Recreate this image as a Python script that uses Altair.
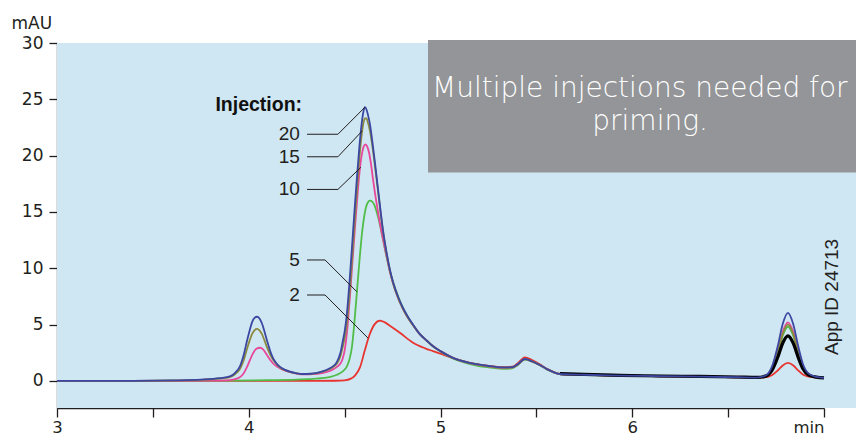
import altair as alt
import pandas as pd

# ---------------- data ----------------
s20 = [(3.0, 0.0), (3.4, 0.01), (3.6, 0.05), (3.75, 0.12), (3.85, 0.25), (3.902, 0.4), (3.93, 0.75),
       (3.954, 1.3), (3.975, 2.4), (3.99, 3.5), (4.005, 4.5), (4.017, 5.2), (4.03, 5.6), (4.043, 5.7),
       (4.056, 5.55), (4.069, 5.1), (4.082, 4.4), (4.095, 3.6), (4.11, 2.75), (4.126, 2.05), (4.145, 1.55),
       (4.163, 1.25), (4.19, 0.98), (4.215, 0.82), (4.25, 0.68), (4.283, 0.62), (4.32, 0.64), (4.356, 0.72),
       (4.385, 0.85), (4.408, 1.0), (4.435, 1.25), (4.46, 1.7), (4.478, 2.5), (4.49, 3.5), (4.502, 4.6),
       (4.512, 6.0), (4.525, 8.7), (4.538, 11.8), (4.551, 15.0), (4.564, 18.0), (4.577, 20.8), (4.59, 23.0),
       (4.598, 23.9), (4.606, 24.3), (4.614, 24.1), (4.622, 23.6), (4.632, 22.8), (4.645, 21.2), (4.658, 19.4),
       (4.671, 17.5), (4.684, 15.6), (4.70, 13.4), (4.721, 11.2), (4.736, 9.9), (4.752, 8.8), (4.778, 7.5),
       (4.804, 6.5), (4.83, 5.7), (4.857, 5.0), (4.89, 4.2), (4.93, 3.55), (4.96, 3.1), (5.0, 2.65),
       (5.065, 2.05), (5.154, 1.6), (5.243, 1.35), (5.326, 1.2), (5.373, 1.22), (5.40, 1.45), (5.44, 1.95),
       (5.477, 1.75), (5.52, 1.4), (5.555, 1.05), (5.587, 0.8), (5.623, 0.62), (5.75, 0.55), (5.936, 0.48),
       (6.15, 0.42), (6.353, 0.38), (6.55, 0.33), (6.65, 0.3), (6.70, 0.53), (6.73, 1.34), (6.76, 3.18),
       (6.785, 5.07), (6.812, 6.05), (6.84, 5.02), (6.865, 3.12), (6.89, 1.51), (6.92, 0.65), (6.96, 0.36),
       (7.0, 0.27)]

s15 = [(3.0, 0.0), (3.4, 0.01), (3.6, 0.04), (3.75, 0.1), (3.85, 0.22), (3.902, 0.35), (3.93, 0.62),
       (3.954, 1.05), (3.975, 1.9), (3.99, 2.8), (4.005, 3.6), (4.017, 4.15), (4.03, 4.5), (4.043, 4.62),
       (4.056, 4.5), (4.069, 4.15), (4.082, 3.6), (4.095, 3.0), (4.11, 2.4), (4.126, 1.9), (4.145, 1.5),
       (4.163, 1.2), (4.19, 0.96), (4.215, 0.8), (4.25, 0.67), (4.283, 0.61), (4.32, 0.63), (4.356, 0.7),
       (4.385, 0.82), (4.408, 0.96), (4.435, 1.18), (4.46, 1.55), (4.478, 2.2), (4.49, 3.0), (4.502, 4.0),
       (4.512, 5.2), (4.525, 7.6), (4.538, 10.6), (4.551, 13.8), (4.564, 16.9), (4.577, 19.8), (4.59, 22.0),
       (4.598, 22.9), (4.606, 23.3), (4.614, 23.3), (4.622, 22.9), (4.632, 22.2), (4.645, 20.8), (4.658, 19.1),
       (4.671, 17.3), (4.684, 15.4), (4.70, 13.3), (4.721, 11.1), (4.736, 9.8), (4.752, 8.7), (4.778, 7.4),
       (4.804, 6.4), (4.83, 5.6), (4.857, 4.95), (4.89, 4.2), (4.93, 3.55), (4.96, 3.1), (5.0, 2.65),
       (5.065, 2.05), (5.154, 1.6), (5.243, 1.33), (5.326, 1.18), (5.373, 1.2), (5.40, 1.43), (5.44, 1.93),
       (5.477, 1.74), (5.52, 1.4), (5.555, 1.05), (5.587, 0.8), (5.623, 0.62), (5.75, 0.55), (5.936, 0.48),
       (6.15, 0.42), (6.353, 0.38), (6.55, 0.33), (6.65, 0.3), (6.70, 0.49), (6.73, 1.15), (6.76, 2.65),
       (6.785, 4.2), (6.812, 5.0), (6.84, 4.15), (6.865, 2.6), (6.89, 1.29), (6.92, 0.58), (6.96, 0.35),
       (7.0, 0.27)]

s10 = [(3.0, 0.0), (3.6, 0.0), (3.8, 0.03), (3.9, 0.08), (3.945, 0.25), (3.97, 0.6), (3.99, 1.2),
       (4.005, 1.8), (4.022, 2.45), (4.04, 2.85), (4.058, 2.95), (4.075, 2.8), (4.095, 2.3), (4.115, 1.8),
       (4.137, 1.4), (4.163, 1.12), (4.19, 0.92), (4.215, 0.78), (4.25, 0.65), (4.283, 0.58), (4.32, 0.58),
       (4.356, 0.63), (4.385, 0.7), (4.408, 0.8), (4.435, 0.98), (4.46, 1.25), (4.478, 1.55), (4.49, 2.0),
       (4.502, 2.9), (4.515, 4.8), (4.528, 7.6), (4.541, 10.6), (4.554, 13.6), (4.567, 16.5), (4.58, 18.9),
       (4.593, 20.4), (4.602, 20.9), (4.61, 21.0), (4.618, 20.8), (4.627, 20.3), (4.638, 19.2), (4.648, 17.9),
       (4.66, 16.5), (4.672, 15.2), (4.684, 14.0), (4.70, 12.6), (4.721, 10.9), (4.736, 9.7), (4.752, 8.7),
       (4.778, 7.4), (4.804, 6.4), (4.83, 5.6), (4.857, 4.95), (4.89, 4.2), (4.93, 3.55), (4.96, 3.1),
       (5.0, 2.65), (5.065, 2.05), (5.154, 1.58), (5.243, 1.32), (5.326, 1.17), (5.373, 1.2), (5.40, 1.43),
       (5.44, 1.93), (5.477, 1.74), (5.52, 1.4), (5.555, 1.05), (5.587, 0.8), (5.623, 0.62), (5.75, 0.55),
       (5.936, 0.48), (6.15, 0.42), (6.353, 0.38), (6.55, 0.33), (6.65, 0.3), (6.70, 0.5), (6.73, 1.18),
       (6.76, 2.75), (6.785, 4.37), (6.812, 5.2), (6.84, 4.32), (6.865, 2.7), (6.89, 1.33), (6.92, 0.59),
       (6.96, 0.35), (7.0, 0.27)]

s5 = [(3.0, 0.0), (3.6, 0.0), (3.9, 0.03), (4.1, 0.07), (4.25, 0.12), (4.35, 0.2), (4.42, 0.35),
      (4.46, 0.55), (4.49, 0.85), (4.512, 1.3), (4.525, 1.9), (4.538, 3.0), (4.551, 5.2), (4.565, 8.1),
      (4.578, 10.8), (4.59, 13.0), (4.604, 14.8), (4.617, 15.7), (4.632, 16.0), (4.645, 15.9), (4.658, 15.5),
      (4.675, 14.5), (4.695, 13.0), (4.715, 11.3), (4.737, 9.7), (4.762, 8.3), (4.789, 7.1), (4.815, 6.1),
      (4.84, 5.4), (4.857, 4.95), (4.89, 4.2), (4.93, 3.55), (4.96, 3.08), (5.0, 2.62), (5.065, 2.0),
      (5.154, 1.5), (5.243, 1.22), (5.326, 1.08), (5.373, 1.12), (5.40, 1.38), (5.44, 1.9), (5.477, 1.72),
      (5.52, 1.38), (5.555, 1.03), (5.587, 0.79), (5.623, 0.62), (5.75, 0.55), (5.936, 0.48), (6.15, 0.42),
      (6.353, 0.38), (6.55, 0.33), (6.65, 0.3), (6.70, 0.48), (6.73, 1.11), (6.76, 2.55), (6.785, 4.04),
      (6.812, 4.8), (6.84, 3.99), (6.865, 2.5), (6.89, 1.25), (6.92, 0.57), (6.96, 0.35), (7.0, 0.27)]

s2 = [(3.0, 0.0), (4.3, 0.0), (4.45, 0.02), (4.5, 0.06), (4.53, 0.18), (4.555, 0.5), (4.58, 1.2),
      (4.605, 2.7), (4.63, 4.1), (4.655, 5.0), (4.684, 5.35), (4.71, 5.2), (4.74, 4.85), (4.79, 4.25),
      (4.857, 3.4), (4.92, 2.9), (4.96, 2.65), (5.02, 2.3), (5.065, 2.02), (5.154, 1.6), (5.243, 1.35),
      (5.326, 1.22), (5.373, 1.26), (5.40, 1.52), (5.44, 2.1), (5.477, 1.85), (5.52, 1.45), (5.555, 1.08),
      (5.587, 0.82), (5.623, 0.63), (5.75, 0.55), (5.936, 0.48), (6.15, 0.42), (6.353, 0.38), (6.55, 0.33),
      (6.65, 0.3), (6.70, 0.35), (6.73, 0.53), (6.76, 0.95), (6.785, 1.38), (6.812, 1.6), (6.84, 1.37),
      (6.865, 0.94), (6.89, 0.57), (6.92, 0.38), (6.96, 0.31), (7.0, 0.27)]

s_black = [(5.623, 0.66), (5.75, 0.58), (5.936, 0.5), (6.15, 0.44), (6.353, 0.4), (6.55, 0.35),
           (6.65, 0.31), (6.70, 0.45), (6.73, 0.97), (6.76, 2.15), (6.785, 3.37), (6.812, 4.0),
           (6.84, 3.33), (6.865, 2.11), (6.89, 1.08), (6.92, 0.52), (6.96, 0.34), (7.0, 0.27)]

series_names = ["2", "5", "10", "15", "black", "20"]
series_points = [s2, s5, s10, s15, s_black, s20]
series_colors = ["#e8342f", "#4fbd48", "#e8479b", "#8c8a3e", "#000000", "#3b47a0"]
series_widths = [1.8, 1.8, 1.8, 1.8, 3.2, 1.8]

# injection labels and leader lines
inj_labels = ["20", "15", "10", "5", "2"]
inj_label_y = [21.9, 19.9, 17.0, 10.74, 7.63]
inj_label_t = 4.267
leader_t = [[4.304, 4.465, 4.606], [4.304, 4.465, 4.592], [4.304, 4.465, 4.585],
            [4.304, 4.398, 4.563], [4.304, 4.398, 4.623]]
leader_y = [[21.9, 21.9, 24.3], [19.9, 19.9, 22.2], [17.0, 17.0, 18.97],
            [10.74, 10.74, 7.93], [7.63, 7.63, 3.79]]

note_lines = ["Multiple injections needed for", "priming."]
note_t = [4.956, 6.093]
note_y = [25.24, 22.28]
note_align = ["left", "center"]

x_ticks = [3, 3.5, 4, 4.5, 5, 5.5, 6, 6.5, 7]
y_ticks = [0, 5, 10, 15, 20, 25, 30]

# ---------------- chart ----------------
INK = "#231f20"
FONT = "DejaVu Sans"

xaxis = alt.Axis(values=x_ticks, title=None, grid=False, tickSize=9, labelPadding=2,
                 labelFontSize=16.5, labelFont=FONT, labelColor=INK, domainColor=INK,
                 tickColor=INK, domainWidth=1.3, tickWidth=1.3, labelFlush=False,
                 labelOverlap=False,
                 labelExpr="datum.value == 7 ? 'min' : (datum.value % 1 == 0 ? format(datum.value, 'd') : '')",
                 labelAlign={"condition": {"test": "datum.value == 7", "value": "right"},
                             "value": "center"})
yaxis = alt.Axis(values=y_ticks, title="mAU", grid=False, tickSize=8, labelPadding=6,
                 labelFontSize=17, labelFont=FONT, labelColor=INK, domainColor=INK,
                 tickColor=INK, domainWidth=1.3, tickWidth=1.3, titleAngle=0,
                 titleX=-46, titleY=-15, titleAlign="left", titleBaseline="alphabetic",
                 titleFontSize=17, titleFont=FONT, titleFontWeight="normal", titleColor=INK)

def X():
    return alt.X("t:Q", scale=alt.Scale(domain=[3, 7], nice=False, zero=False), axis=xaxis)

def Y():
    return alt.Y("y:Q", scale=alt.Scale(domain=[-2.4, 30], nice=False, zero=False), axis=yaxis)

one = pd.DataFrame({"a": [0]})

background = alt.Chart(one).mark_rect(color="#cfe6f3").encode(
    x=alt.value(0), x2=alt.value(810), y=alt.value(0), y2=alt.value(365))

box = alt.Chart(one).mark_rect(color="#939598").encode(
    x=alt.value(371), x2=alt.value(830), y=alt.value(-3), y2=alt.value(129.6))

layers = [background, box]

for name, pts, col, w in zip(series_names, series_points, series_colors, series_widths):
    df = pd.DataFrame(pts, columns=["t", "y"])
    layers.append(alt.Chart(df).mark_line(color=col, strokeWidth=w, interpolate="monotone",
                                          strokeJoin="round").encode(x=X(), y=Y()))

lead_rows = []
for lab, ts, ys in zip(inj_labels, leader_t, leader_y):
    for i, (tt, yy) in enumerate(zip(ts, ys)):
        lead_rows.append({"lab": lab, "i": i, "t": tt, "y": yy})
lead_df = pd.DataFrame(lead_rows)
layers.append(alt.Chart(lead_df).mark_line(color=INK, strokeWidth=1).encode(
    x=X(), y=Y(), detail="lab:N", order="i:Q"))

lab_df = pd.DataFrame({"label": inj_labels, "y": inj_label_y, "t": [inj_label_t] * len(inj_labels)})
layers.append(alt.Chart(lab_df).mark_text(align="right", baseline="middle", fontSize=19,
                                          font="Liberation Sans", color=INK).encode(
    x=X(), y=Y(), text="label:N"))

inj_df = pd.DataFrame({"label": ["Injection:"], "t": [4.278], "y": [23.97]})
layers.append(alt.Chart(inj_df).mark_text(align="right", baseline="alphabetic", fontSize=19.5,
                                          font="Liberation Sans",
                                          fontWeight="bold", color="#111111").encode(
    x=X(), y=Y(), text="label:N"))

for line, tt, yy, al in zip(note_lines, note_t, note_y, note_align):
    ndf = pd.DataFrame({"label": [line], "t": [tt], "y": [yy]})
    layers.append(alt.Chart(ndf).mark_text(align=al, baseline="alphabetic", fontSize=28,
                                           font=FONT, fontWeight=200, color="white").encode(
        x=X(), y=Y(), text="label:N"))

app_df = pd.DataFrame({"label": ["App ID 24713"], "t": [7.042], "y": [7.46]})
layers.append(alt.Chart(app_df).mark_text(align="center", baseline="middle", fontSize=19,
                                          font="Liberation Sans", angle=270, color=INK).encode(
    x=X(), y=Y(), text="label:N"))

chart = alt.layer(*layers).properties(
    width=767, height=365,
    autosize=alt.AutoSizeParams(type="none"),
    padding={"left": 49, "top": 35, "right": 32, "bottom": 27},
    background="white",
).configure_view(stroke=None)

chart.save("out.html", embed_options={"renderer": "svg", "actions": False})
